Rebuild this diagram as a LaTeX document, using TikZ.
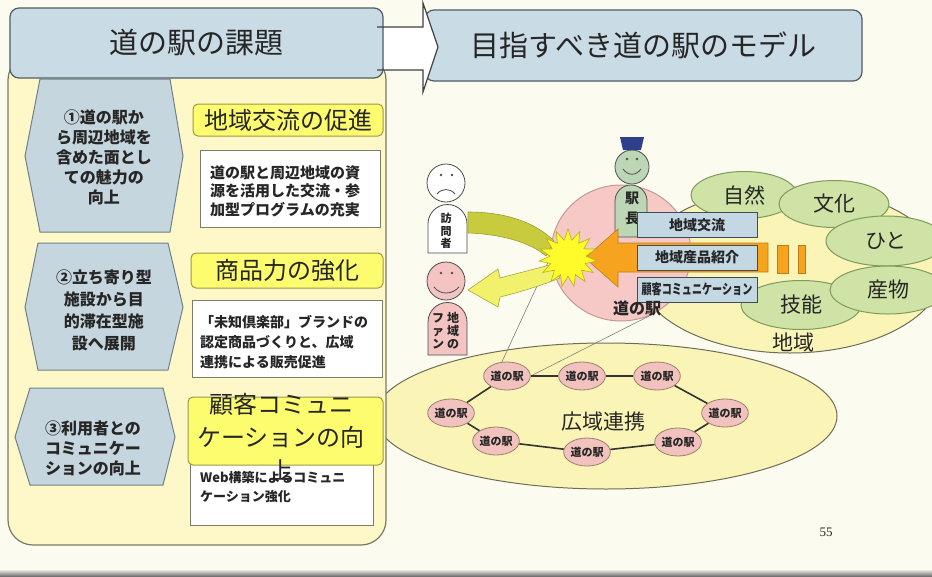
\documentclass[tikz,border=0pt]{standalone}
\usepackage{fontspec}
\setmainfont{Noto Sans CJK JP}
\newfontfamily\numfont{Liberation Serif}
\usetikzlibrary{shapes.geometric}

\newcommand\fsz[2]{\fontsize{#1}{#2}\selectfont}

\definecolor{pagecream}{HTML}{FCFBEF}
\definecolor{panelyellow}{HTML}{FEF8C8}
\definecolor{paneledge}{HTML}{7A7A60}
\definecolor{headerblue}{HTML}{C9DBE5}
\definecolor{headeredge}{HTML}{4F5C66}
\definecolor{hexblue}{HTML}{C6D6DE}
\definecolor{hexedge}{HTML}{6F8088}
\definecolor{themeyellow}{HTML}{FDFB6E}
\definecolor{themeedge}{HTML}{9C9A48}
\definecolor{noteedge}{HTML}{7D7D6A}
\definecolor{regionyellow}{HTML}{FAF5B6}
\definecolor{regionedge}{HTML}{6E6E58}
\definecolor{ekipink}{HTML}{F6C8C6}
\definecolor{ekiedge}{HTML}{C49A96}
\definecolor{leafgreen}{HTML}{CFE3A6}
\definecolor{leafedge}{HTML}{7F9A5C}
\definecolor{serviceblue}{HTML}{C4D8E4}
\definecolor{serviceedge}{HTML}{3E4C58}
\definecolor{orangefill}{HTML}{F6A320}
\definecolor{orangeedge}{HTML}{C47A18}
\definecolor{burstyellow}{HTML}{FFFB2A}
\definecolor{burstedge}{HTML}{B8B020}
\definecolor{bandgreen}{HTML}{C8CB3E}
\definecolor{bandedge}{HTML}{9E9E34}
\definecolor{arrowyellow}{HTML}{F2F16C}
\definecolor{arrowedge}{HTML}{ACA640}
\definecolor{fanpink}{HTML}{F4C4C2}
\definecolor{staffgreen}{HTML}{BDD7B6}
\definecolor{capblue}{HTML}{2E3F8C}
\definecolor{ringpink}{HTML}{F2C3BE}
\definecolor{ringedge}{HTML}{9C7C6C}
\definecolor{inkdark}{HTML}{262626}

\tikzset{
  panel/.style={fill=panelyellow, draw=paneledge, line width=1.2},
  header/.style={fill=headerblue, draw=headeredge, line width=1.2, rounded corners=9,
    font=\fsz{29}{34}, text=inkdark},
  hexa/.style={fill=hexblue, draw=hexedge, line width=1},
  hextext/.style={align=center, font=\bfseries\fsz{16}{20}, text=inkdark},
  theme/.style={fill=themeyellow, draw=themeedge, line width=1, rounded corners=5},
  themetext/.style={align=center, font=\fsz{24}{33}, text=inkdark},
  note/.style={fill=white, draw=noteedge, line width=1},
  notetext/.style={anchor=north west, align=left, inner sep=0, text=inkdark},
  region/.style={ellipse, fill=regionyellow, draw=regionedge, line width=1, inner sep=0},
  bigtext/.style={font=\fsz{21}{25}, text=inkdark},
  element/.style={ellipse, fill=leafgreen, draw=leafedge, line width=1, inner sep=0,
    font=\fsz{21}{25}, text=inkdark},
  service/.style={fill=serviceblue, draw=serviceedge, line width=1, minimum width=120,
    minimum height=25, inner sep=0, font=\bfseries\fsz{14}{16}, text=inkdark},
  ringeki/.style={ellipse, fill=ringpink, draw=ringedge, line width=.8, minimum width=46,
    minimum height=28, inner sep=0, font=\bfseries\fsz{11}{13}, text=inkdark},
  ringlink/.style={draw=black!80, line width=1.6},
  zoomline/.style={draw=black!50, line width=.6},
  person/.style={draw=black!70, line width=.8},
  vtext/.style={align=center, inner sep=0, text=inkdark}
}

\begin{document}
\begin{tikzpicture}[x=1pt,y=-1pt]
\useasboundingbox (0,0) rectangle (932,576);
\fill[pagecream] (0,0) rectangle (932,576);
\shade[top color=pagecream, bottom color=black!55] (0,569) rectangle (932,576);

% wide-area cooperation ring
\node[region, minimum width=462, minimum height=146] (kouiki) at (606,416) {};
\node[bigtext] (kouikilabel) at (603,422) {広域連携};

% local region
\node[region, minimum width=306, minimum height=166] (chiiki) at (790,270) {};
\node[bigtext] (chiikilabel) at (793,343) {地域};

% the station itself
\node[ellipse, fill=ekipink, draw=ekiedge, line width=1, minimum width=140,
  minimum height=136] (eki) at (621,253) {};

% ring of stations
\foreach \n/\x/\y in {1/507/376, 2/582/376, 3/657/376, 4/725/413,
                      5/678/442, 6/587/452, 7/496/441, 8/451/413}
  \node[ringeki] (r\n) at (\x,\y) {道の駅};
\draw[zoomline] (eki.183) -- (r1.110);
\draw[zoomline] (eki.-60) -- (r1.east);
\foreach \a/\b in {1/2,2/3,3/4,4/5,5/6,6/7,7/8,8/1}
  \draw[ringlink] (r\a) -- (r\b);

% resources of the region
\node[element, minimum width=106, minimum height=47] (shizen) at (744,195) {自然};
\node[element, minimum width=110, minimum height=47] (bunka) at (834,204) {文化};
\node[element, minimum width=120, minimum height=50] (hito) at (886,241) {ひと};
\node[element, minimum width=120, minimum height=49] (gino) at (801,305) {技能};
\node[element, minimum width=116, minimum height=48] (sanbutsu) at (888,290) {産物};

% station master
\draw[person, fill=staffgreen] (615,237) -- (615,201) arc[start angle=180, end angle=0, radius=16pt] -- (647,237) -- cycle;
\draw[person, fill=staffgreen] (632,167) circle[radius=17pt];
\fill[capblue] (620,137) -- (644,137) -- (641,150) -- (623,150) -- cycle;
\fill[black!70] (627,159) circle[radius=1.3pt] (637,159) circle[radius=1.3pt];
\draw[black!70, line width=.8] (623,169) .. controls (628,176) and (636,176) .. (641,169);
\node[vtext, font=\bfseries\fsz{14}{20}] (ekicho) at (632,208) {駅\\長};

% goods flowing out of the region
\draw[fill=orangefill, draw=orangeedge, line width=.6] (585,258) -- (618,229) -- (618,243) -- (768,243)
  -- (768,272) -- (618,272) -- (618,287) -- cycle;
\draw[fill=orangefill, draw=orangeedge, line width=.6] (777,245) rectangle (788,273);
\draw[fill=orangefill, draw=orangeedge, line width=.6] (798,245) rectangle (805,273);

\node[service] (koryu) at (697,225) {地域交流};
\node[service] (shokai) at (697,257.5) {地域産品紹介};
\node[service] (kokyaku) at (697,289.5) {\scalebox{0.72}[1]{顧客コミュニケーション}};
\node[font=\bfseries\fsz{16}{18}, text=inkdark] (ekilabel) at (637,308) {道の駅};

% visitor
\draw[person, fill=white] (428,253) -- (428,224) arc[start angle=180, end angle=0, radius=19.5pt] -- (467,253) -- cycle;
\draw[person, fill=white] (446,183) circle[radius=19pt];
\fill[black!70] (441,175) circle[radius=1.3pt] (452,175) circle[radius=1.3pt];
\draw[black!70, line width=.8] (437,194) .. controls (442,188) and (450,188) .. (455,194);
\node[vtext, font=\bfseries\fsz{11}{12.5}] (homon) at (446,231) {訪\\問\\者};

% fan of the region
\draw[person, fill=fanpink] (428,355) -- (428,322) arc[start angle=180, end angle=0, radius=19.5pt] -- (467,355) -- cycle;
\draw[person, fill=fanpink] (446,281) circle[radius=19pt];
\fill[black!70] (441,273) circle[radius=1.3pt] (452,273) circle[radius=1.3pt];
\draw[black!70, line width=.8] (434,287) .. controls (440,295) and (452,295) .. (459,287);
\node[vtext, font=\bfseries\fsz{12}{13}] (fanr) at (453,331) {地\\域\\の};
\node[vtext, font=\bfseries\fsz{12}{13}] (fanl) at (438,331) {フ\\ァ\\ン};

% visitor comes in, fan goes out
\draw[fill=bandgreen, draw=bandedge, line width=.6] (468,212) .. controls (505,212) and (535,222) .. (554,241)
  -- (546,256) .. controls (530,242) and (500,234) .. (468,233) -- cycle;
\draw[fill=arrowyellow, draw=arrowedge, line width=.6] (553,264) .. controls (535,269) and (515,274) .. (500,278)
  -- (498,269) -- (468,290) -- (498,307) -- (500,297) .. controls (520,292) and (540,286) .. (560,278) -- cycle;
\node[star, star points=15, star point ratio=1.6, minimum size=58, inner sep=0,
  fill=burstyellow, draw=burstedge, line width=.6] (burst) at (568,258) {};

% left panel: issues
\draw[panel, rounded corners=25] (8,55) rectangle (386,545);
\node[header, minimum width=373, minimum height=70] (kadai) at (196.5,43) {道の駅の課題};

\draw[hexa] (40,79) -- (170,79) -- (183,156) -- (170,232) -- (40,232) -- (25,156) -- cycle;
\draw[hexa] (38,243) -- (168,243) -- (183,307) -- (168,370) -- (38,370) -- (25,307) -- cycle;
\draw[hexa] (30,388) -- (163,388) -- (175,437) -- (163,485) -- (30,485) -- (15,437) -- cycle;
\node[hextext] (issue1) at (104,157) {①道の駅か\\ら周辺地域を\\含めた面とし\\ての魅力の\\向上};
\node[hextext, font=\bfseries\fsz{16}{22}] (issue2) at (104,310) {②立ち寄り型\\施設から目\\的滞在型施\\設へ展開};
\node[hextext] (issue3) at (93,448) {③利用者との\\コミュニケー\\ションの向上};

\draw[theme] (193,104) rectangle (383,136);
\node[themetext] (theme1) at (288,120) {地域交流の促進};
\draw[note] (200,150) rectangle (380,227);
\node[notetext, font=\bfseries\fsz{15}{18.5}] (note1) at (210,165)
  {道の駅と周辺地域の資\\源を活用した交流・参\\加型プログラムの充実};

\draw[theme] (191,253) rectangle (383,288);
\node[themetext] (theme2) at (287,270) {商品力の強化};
\draw[note] (192,300) rectangle (382,377);
\node[notetext, font=\bfseries\fsz{14}{20}] (note2) at (200,315)
  {「未知倶楽部」ブランドの\\認定商品づくりと、広域\\連携による販売促進};

\draw[note] (190,462) rectangle (373,525);
\draw[theme] (188,397) rectangle (383,465);
\node[themetext] (theme3) at (281,437) {顧客コミュニ\\ケーションの向\\上};
\node[notetext, font=\bfseries\fsz{13}{19}] (note3) at (200,471)
  {Web構築によるコミュニ\\ケーション強化};

% right title and the arrow leading to it
\node[header, minimum width=437, minimum height=71] (model) at (643.5,45.5) {目指すべき道の駅のモデル};
\fill[white] (384,27) -- (423,27) -- (423,3) -- (438,47) -- (423,92) -- (423,70) -- (384,70) -- cycle;
\draw[draw=black!75, line width=1.2] (377,27) -- (423,27) -- (423,3) -- (438,47) -- (423,92) -- (423,70) -- (377,70);

\node[font=\numfont\fsz{13}{15}, text=inkdark] (pageno) at (826,532) {55};
\end{tikzpicture}
\end{document}
